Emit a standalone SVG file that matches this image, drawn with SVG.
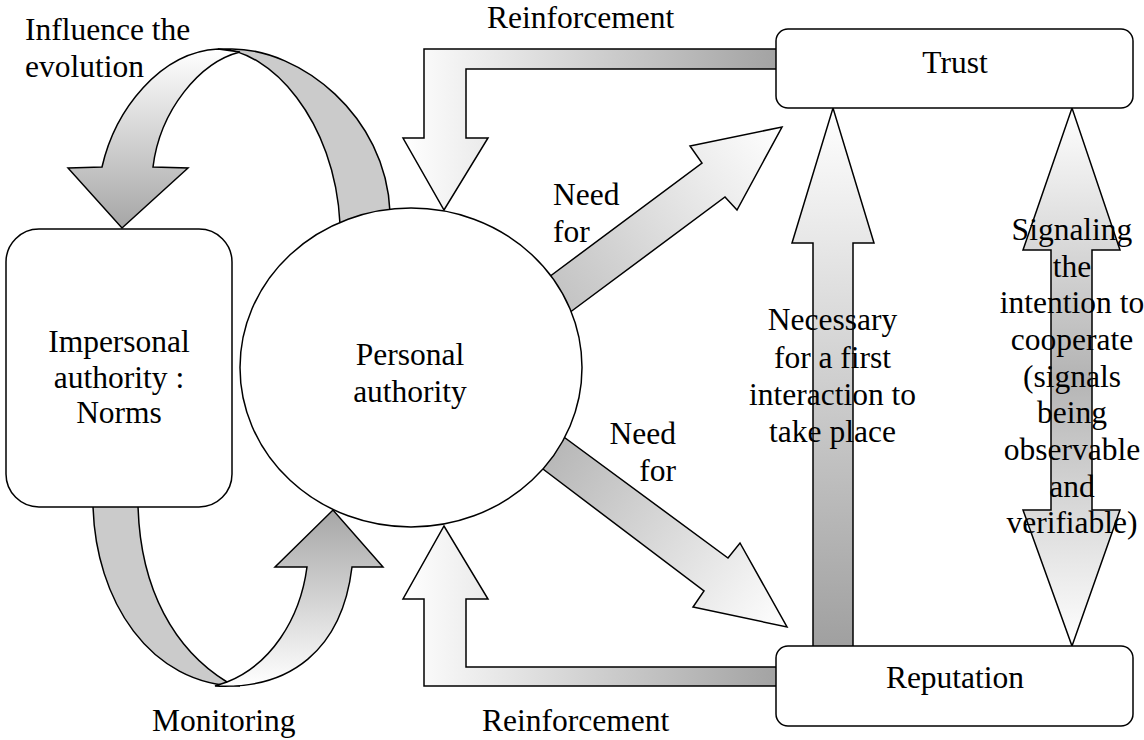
<svg xmlns="http://www.w3.org/2000/svg" width="1144" height="740" viewBox="0 0 1144 740">
<style>
.sh{stroke:#000;stroke-width:1.5;stroke-linejoin:miter}
.nd{fill:#fff;stroke:#000;stroke-width:1.5}
.t{font-family:'Liberation Serif','DejaVu Serif',serif;font-size:31.5px;fill:#000}
.c{text-anchor:middle}
.r{text-anchor:end}
.back{fill:#cbcbcb}
</style>
<defs>
<linearGradient id="gArcTop" gradientUnits="userSpaceOnUse" x1="0" y1="49" x2="0" y2="228"><stop offset="0" stop-color="#ffffff"/><stop offset="1" stop-color="#a6a6a6"/></linearGradient>
<linearGradient id="gArcBot" gradientUnits="userSpaceOnUse" x1="0" y1="686" x2="0" y2="510"><stop offset="0" stop-color="#ffffff"/><stop offset="1" stop-color="#a6a6a6"/></linearGradient>
<linearGradient id="gReinf" gradientUnits="userSpaceOnUse" x1="403" y1="0" x2="776" y2="0"><stop offset="0" stop-color="#ffffff"/><stop offset="1" stop-color="#a3a3a3"/></linearGradient>
<linearGradient id="gNeedUp" gradientUnits="userSpaceOnUse" x1="560" y1="292" x2="782" y2="127"><stop offset="0" stop-color="#c4c4c4"/><stop offset="1" stop-color="#ffffff"/></linearGradient>
<linearGradient id="gNeedDn" gradientUnits="userSpaceOnUse" x1="555" y1="453" x2="787" y2="627"><stop offset="0" stop-color="#b8b8b8"/><stop offset="1" stop-color="#ffffff"/></linearGradient>
<linearGradient id="gNec" gradientUnits="userSpaceOnUse" x1="0" y1="646" x2="0" y2="108"><stop offset="0" stop-color="#a0a0a0"/><stop offset="1" stop-color="#ffffff"/></linearGradient>
<linearGradient id="gSig" gradientUnits="userSpaceOnUse" x1="0" y1="108" x2="0" y2="646"><stop offset="0" stop-color="#ffffff"/><stop offset="0.5" stop-color="#b4b4b4"/><stop offset="1" stop-color="#ffffff"/></linearGradient>
</defs>

<g id="connectors">
  <path class="sh back" d="M 218,49 C 270,49 335,120 340,224 L 390,212 C 386,115 300,49 232,49 Z"/>
  <path class="sh" fill="url(#gArcTop)" d="M 68,168 L 102,167 C 115,110 160,52 218,49 L 240,52 C 200,62 160,110 153,167 L 188,168 L 122,228 Z"/>
  <path class="sh back" d="M 93,505 C 95,600 150,686 240,686 L 227,682 C 175,650 140,590 138,505 Z"/>
  <path class="sh" fill="url(#gArcBot)" d="M 215,686 C 290,690 342,650 352,567 L 383,567 L 333,510 L 275,567 L 307,567 C 300,620 270,665 227,682 Z"/>
  <path class="sh" fill="url(#gReinf)" d="M 780,49 L 424,49 L 424,138 L 403,138 L 444,210 L 488,138 L 466,138 L 466,69 L 780,69 Z"/>
  <path class="sh" fill="url(#gReinf)" d="M 780,686 L 424,686 L 424,599 L 403,599 L 444,526 L 488,599 L 466,599 L 466,667 L 780,667 Z"/>
  <path class="sh" fill="url(#gNeedUp)" d="M 545,280 L 702,163 L 690,146 L 782,127 L 737,210 L 725,197 L 565,316 Z"/>
  <path class="sh" fill="url(#gNeedDn)" d="M 535,463 L 704,591 L 693,607 L 787,627 L 740,543 L 728,558 L 557,432 Z"/>
  <path class="sh" fill="url(#gNec)" d="M 813,650 L 813,243 L 792,243 L 833,108 L 874,243 L 853,243 L 853,650 Z"/>
  <path class="sh" fill="url(#gSig)" d="M 1051,250 L 1023,250 L 1072,108 L 1120,250 L 1092,250 L 1092,510 L 1120,510 L 1072,646 L 1023,510 L 1051,510 Z"/>
</g>

<g id="node-impersonal">
  <rect class="nd" x="6" y="229" width="226" height="278" rx="33" ry="33"/>
  <text class="t c" font-family="Liberation Serif, serif" x="119" y="352">Impersonal</text>
  <text class="t c" font-family="Liberation Serif, serif" x="119" y="388">authority :</text>
  <text class="t c" font-family="Liberation Serif, serif" x="119" y="423">Norms</text>
</g>
<g id="node-personal">
  <ellipse class="nd" cx="411" cy="367.5" rx="171" ry="159.5"/>
  <text class="t c" x="410" y="365">Personal</text>
  <text class="t c" x="410" y="402">authority</text>
</g>
<g id="node-trust">
  <rect class="nd" x="776" y="29" width="357" height="79" rx="12" ry="12"/>
  <text class="t c" x="955" y="73">Trust</text>
</g>
<g id="node-reputation">
  <rect class="nd" x="776" y="646" width="357" height="80" rx="12" ry="12"/>
  <text class="t c" x="955" y="688">Reputation</text>
</g>

<g id="labels">
  <text class="t" x="25" y="40">Influence the</text>
  <text class="t" x="25" y="77">evolution</text>
  <text class="t" x="487" y="28">Reinforcement</text>
  <text class="t" x="482" y="731">Reinforcement</text>
  <text class="t" x="152" y="731">Monitoring</text>
  <text class="t" x="553" y="205">Need</text>
  <text class="t" x="553" y="242">for</text>
  <text class="t r" x="676" y="444">Need</text>
  <text class="t r" x="676" y="481">for</text>
  <text class="t c" x="832.5" y="330">Necessary</text>
  <text class="t c" x="832.5" y="368">for a first</text>
  <text class="t c" x="832.5" y="405">interaction to</text>
  <text class="t c" x="832.5" y="442">take place</text>
  <text class="t c" x="1072" y="240">Signaling</text>
  <text class="t c" x="1072" y="277">the</text>
  <text class="t c" x="1072" y="313">intention to</text>
  <text class="t c" x="1072" y="350">cooperate</text>
  <text class="t c" x="1072" y="387">(signals</text>
  <text class="t c" x="1072" y="423">being</text>
  <text class="t c" x="1072" y="460">observable</text>
  <text class="t c" x="1072" y="497">and</text>
  <text class="t c" x="1072" y="533">verifiable)</text>
</g>
</svg>
